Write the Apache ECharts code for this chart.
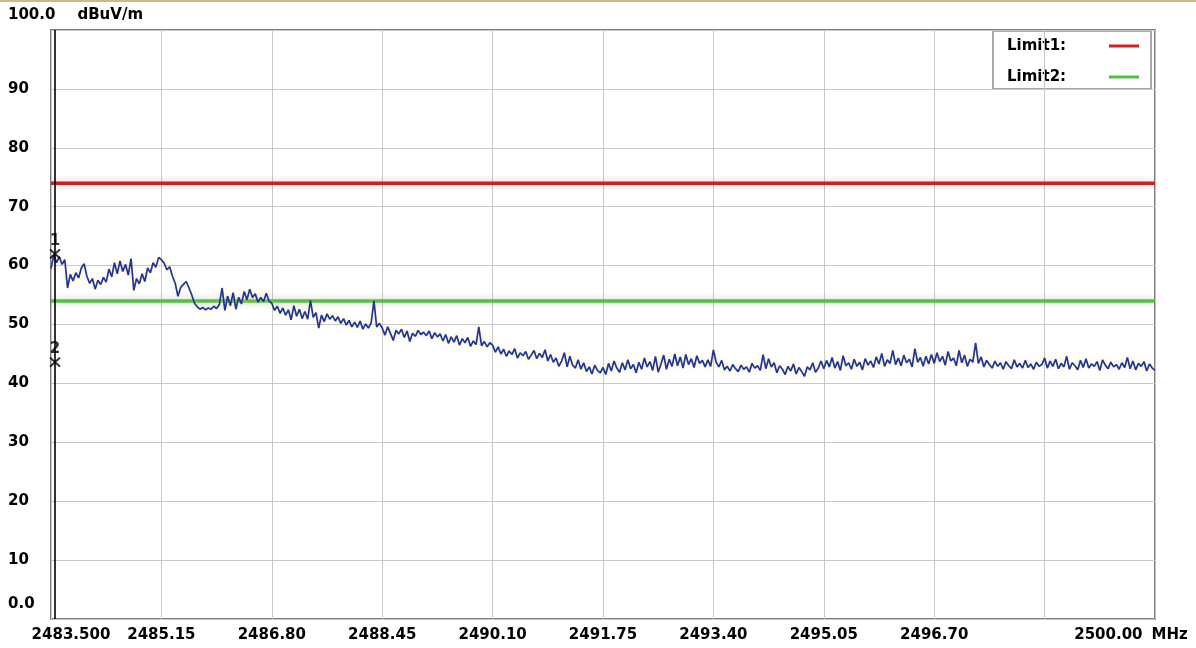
<!DOCTYPE html>
<html>
<head>
<meta charset="utf-8">
<script src="https://cdn.jsdelivr.net/npm/echarts@6/dist/echarts.min.js"></script>
<style>
  html, body { margin: 0; padding: 0; background: #ffffff; }
  #chart { width: 1196px; height: 648px; }
</style>
</head>
<body>
<div id="chart"></div>
<script>
// Sweep settings (MHz)
const freqStart = 2483.5;
const freqSpan = 16.5;
const freqGridStep = 1.65;
const sweepStep = 0.04125;

// Axis tick labels
const xTickLabels = ['2483.500', '2485.15', '2486.80', '2488.45', '2490.10', '2491.75',
                     '2493.40', '2495.05', '2496.70', '', '2500.00'];
const xUnit = 'MHz';
const yTickLabels = ['0.0', '10', '20', '30', '40', '50', '60', '70', '80', '90', '100.0'];
const yUnit = 'dBuV/m';

// Limit lines (dBuV/m)
const limitNames = ['Limit1:', 'Limit2:'];
const limitLevels = [74, 54];
const limitColors = ['#cf2121', '#52c13f'];

// Markers
const markerNames = ['1', '2'];
const markerFreqs = [2483.56, 2483.56];
const markerLevels = [62.0, 43.6];

// Measured trace, one array per 1.65 MHz span (dBuV/m)
const trace01 = [59.5,61.8,60.5,61.5,60.2,61.0,56.2,58.5,57.4,58.8, 57.9,59.6,60.3,58.2,57.0,57.8,56.0,57.5,56.8,58.0,
                 57.2,59.4,58.1,60.5,58.6,60.8,59.0,60.2,58.4,61.2, 55.8,57.8,56.9,58.6,57.3,59.6,58.8,60.5,59.7,61.4];
const trace02 = [61.0,60.4,59.3,59.8,58.2,57.0,54.8,56.3,56.8,57.3, 56.2,55.0,53.6,53.0,52.6,52.9,52.5,52.8,52.6,53.1,
                 52.7,53.4,56.2,52.4,54.8,53.2,55.4,52.6,54.6,53.5, 55.6,54.2,56.0,54.6,55.2,53.8,54.6,53.9,55.3,54.0];
const trace03 = [53.6,52.4,53.1,51.9,52.8,51.6,52.5,50.8,53.2,51.4, 52.6,51.0,52.2,50.9,54.1,51.2,52.0,49.4,51.6,50.5,
                 51.8,50.9,51.5,50.6,51.3,50.2,51.0,49.9,50.7,49.6, 50.4,49.5,50.6,49.2,50.1,49.4,50.3,54.0,49.6,50.2];
const trace04 = [49.4,48.2,49.6,48.5,47.3,49.0,48.4,49.2,47.8,48.9, 47.1,48.5,48.0,49.0,48.3,48.7,48.1,48.9,47.6,48.6,
                 47.9,48.4,47.2,48.3,46.8,47.9,47.0,48.1,46.5,47.6, 46.9,47.8,46.3,47.2,46.6,49.6,46.4,47.1,46.2,46.9];
const trace05 = [46.5,45.3,46.2,45.0,45.8,44.6,45.5,44.9,45.9,44.3, 45.2,44.7,45.4,44.1,44.8,45.6,44.2,45.1,44.4,45.7,
                 43.8,44.9,43.6,44.3,42.9,43.8,45.2,42.8,44.6,43.1, 42.6,44.0,42.4,43.5,42.0,42.8,41.6,43.1,42.2,41.8];
const trace06 = [42.7,41.5,43.4,42.1,43.8,42.6,41.9,43.5,42.3,44.0, 42.5,43.2,41.8,43.6,42.4,44.3,42.8,43.7,42.2,44.6,
                 41.9,43.3,44.8,42.4,44.1,42.9,45.0,43.0,44.5,42.6, 44.9,43.2,44.2,42.7,44.7,43.4,43.9,42.8,44.0,42.9];
const trace07 = [45.7,43.6,42.8,43.9,42.3,42.9,42.1,43.2,42.5,42.0, 43.1,42.4,42.8,41.9,43.4,42.6,43.0,42.2,44.9,42.5,
                 44.2,42.8,43.5,41.8,43.0,42.4,41.5,42.9,42.1,43.3, 41.6,42.7,42.0,41.2,42.8,42.3,43.5,41.9,42.6,43.8];
const trace08 = [42.5,43.9,42.8,44.4,42.6,43.7,42.2,44.7,43.0,43.5, 42.4,44.1,42.9,43.6,42.3,44.2,43.1,43.8,42.7,44.5,
                 43.3,45.1,42.9,44.0,43.4,45.6,43.2,44.3,43.0,44.8, 43.5,44.1,42.8,45.9,43.6,44.4,42.9,44.6,43.3,44.9];
const trace09 = [43.4,45.2,43.7,44.6,43.1,45.4,43.8,44.3,43.0,45.6, 43.5,44.8,42.9,44.1,43.6,46.9,43.4,44.5,42.8,43.9,
                 43.2,42.6,43.8,42.9,43.5,42.4,43.7,43.0,42.5,44.0, 42.8,43.4,42.6,43.9,42.7,43.3,42.4,43.6,42.9,43.2];
const trace10 = [44.3,42.6,43.8,42.9,44.1,42.5,43.4,42.8,44.6,42.4, 43.5,43.0,42.3,43.9,42.7,44.2,42.6,43.3,42.9,43.7,
                 42.2,44.0,43.1,42.5,43.6,42.8,43.2,42.4,43.5,42.7, 44.4,42.5,43.8,42.3,43.4,42.9,43.7,42.1,43.3,42.6, 42.2];

const traceValues = [].concat(trace01, trace02, trace03, trace04, trace05,
                              trace06, trace07, trace08, trace09, trace10);
// x is kept as an offset from the start frequency so grid ticks fall on the 1.65 MHz steps
const traceData = traceValues.map((v, i) => [i * sweepStep, v]);

const FONT = 'DejaVu Sans';
const labelStyle = { fontFamily: FONT, fontWeight: 'bold', fontSize: 15, color: '#000' };

const chart = echarts.init(document.getElementById('chart'), null, { renderer: 'canvas' });

const limitSeries = limitLevels.map((lvl, k) => ({
  type: 'line',
  name: limitNames[k],
  data: [[0, lvl], [freqSpan, lvl]],
  symbol: 'none',
  silent: true,
  z: 3,
  lineStyle: {
    color: limitColors[k], width: 3.5,
    shadowColor: 'rgba(0,0,0,0.22)', shadowBlur: 7
  }
}));

chart.setOption({
  animation: false,
  backgroundColor: '#ffffff',
  grid: {
    left: 51, right: 41, top: 30, bottom: 29,
    containLabel: false,
    outerBoundsMode: 'none',
    show: true, borderColor: '#7d7d7d', borderWidth: 2, backgroundColor: '#ffffff'
  },
  xAxis: {
    type: 'value',
    min: 0, max: freqSpan, interval: freqGridStep,
    axisLine: { show: false },
    axisTick: { show: false },
    splitLine: { show: true, lineStyle: { color: '#c9c9c9', width: 1 } },
    axisLabel: {
      margin: 9,
      ...labelStyle,
      showMinLabel: true, showMaxLabel: true,
      formatter: (v) => {
        const idx = Math.round(v / freqGridStep);
        const txt = xTickLabels[idx];
        if (idx === 0) return '{first|' + txt + '}';
        if (idx === xTickLabels.length - 1) return '{last|' + txt + '}{unit|' + xUnit + '}';
        return txt;
      },
      rich: {
        first: { ...labelStyle, padding: [0, 0, 0, 40] },
        last: { ...labelStyle, padding: [0, 0, 0, 0] },
        unit: { ...labelStyle, padding: [0, 48, 0, 9] }
      }
    }
  },
  yAxis: {
    type: 'value',
    min: 0, max: 100, interval: 10,
    axisLine: { show: false },
    axisTick: { show: false },
    splitLine: { show: true, lineStyle: { color: '#c9c9c9', width: 1 } },
    axisLabel: {
      align: 'left',
      margin: 43,
      ...labelStyle,
      showMinLabel: true, showMaxLabel: true,
      formatter: (v) => {
        const idx = Math.round(v / 10);
        const txt = yTickLabels[idx];
        if (idx === 0) return '{low|' + txt + '}';
        if (idx === yTickLabels.length - 1) return '{low|' + txt + '}{unitTop|' + yUnit + '}';
        return txt;
      },
      rich: {
        low: { ...labelStyle, padding: [0, 0, 30, 0] },
        unitTop: { ...labelStyle, padding: [0, 0, 30, 22] }
      }
    }
  },
  series: [
    ...limitSeries,
    {
      type: 'line',
      name: 'trace',
      data: traceData,
      symbol: 'none',
      silent: true,
      z: 4,
      lineStyle: {
        color: '#1f3598', width: 1.7,
        shadowColor: 'rgba(236,222,120,0.55)', shadowBlur: 6
      }
    },
    {
      type: 'scatter',
      name: 'markers',
      data: markerFreqs.map((f, k) => [f - freqStart, markerLevels[k]]),
      symbol: 'path://M0 0L10 10M10 0L0 10',
      symbolSize: [10, 9],
      silent: true,
      z: 6,
      itemStyle: { color: 'transparent', borderColor: '#000', borderWidth: 2 },
      label: {
        show: true, position: 'top', distance: 0,
        fontFamily: FONT, fontWeight: 'bold', fontSize: 15, color: '#000',
        formatter: (p) => markerNames[p.dataIndex]
      },
      markLine: {
        silent: true, symbol: 'none',
        label: { show: false },
        lineStyle: { color: '#000', width: 1.6, type: 'solid' },
        data: [{ xAxis: markerFreqs[0] - freqStart }]
      }
    }
  ],
  graphic: [
    // thin rule along the top of the page
    { type: 'rect', left: 0, top: 0, shape: { width: 1196, height: 2 }, style: { fill: '#cdb98a' }, silent: true },
    // limit key box
    {
      type: 'group', left: 992, top: 30, silent: true, z: 100,
      children: [
        { type: 'rect', shape: { x: 0, y: 0, width: 158, height: 58 },
          style: { fill: '#ffffff', stroke: '#a9a9a9', lineWidth: 2 } },
        { type: 'text', x: 14, y: 15, style: { text: limitNames[0], font: 'bold 15px "DejaVu Sans"', fill: '#000', verticalAlign: 'middle' } },
        { type: 'text', x: 14, y: 46, style: { text: limitNames[1], font: 'bold 15px "DejaVu Sans"', fill: '#000', verticalAlign: 'middle' } },
        { type: 'line', shape: { x1: 116, y1: 15, x2: 146, y2: 15 }, style: { stroke: limitColors[0], lineWidth: 3 } },
        { type: 'line', shape: { x1: 116, y1: 46, x2: 146, y2: 46 }, style: { stroke: limitColors[1], lineWidth: 3 } }
      ]
    }
  ]
});
</script>
</body>
</html>
